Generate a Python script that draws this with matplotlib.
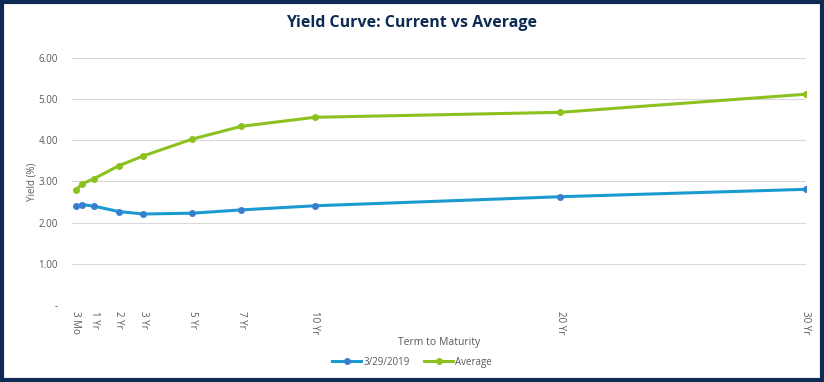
import matplotlib
matplotlib.use('Agg')
import matplotlib.pyplot as plt
from matplotlib.patches import Rectangle

terms = [0.25, 0.5, 1, 2, 3, 5, 7, 10, 20, 30]
current = [2.40, 2.44, 2.40, 2.27, 2.21, 2.23, 2.31, 2.41, 2.63, 2.81]
average = [2.79, 2.94, 3.07, 3.38, 3.62, 4.03, 4.34, 4.56, 4.68, 5.12]

tick_pos = [0.25, 1, 2, 3, 5, 7, 10, 20, 30]
tick_lab = ['3 Mo', '1 Yr', '2 Yr', '3 Yr', '5 Yr', '7 Yr', '10 Yr', '20 Yr', '30 Yr']
y_ticks = [0, 1, 2, 3, 4, 5, 6]
y_labs = ['-', '1.00', '2.00', '3.00', '4.00', '5.00', '6.00']

plt.rcParams['font.family'] = ['Open Sans', 'DejaVu Sans']
gray = '#595959'
navy = '#0d2b55'

fig = plt.figure(figsize=(8.24, 3.82), dpi=100)
ax = fig.add_axes([0.0874, 0.2016, 0.8906, 0.6466])

ax.plot(terms, current, color='#1b9ad2', lw=2.2, marker='o', ms=4,
        mfc='#3a7fcf', mec='#3a7fcf', label='3/29/2019', zorder=3)
ax.plot(terms, average, color='#8cc11f', lw=2.2, marker='o', ms=4,
        mfc='#8cc11f', mec='#8cc11f', label='Average', zorder=3)

ax.set_xlim(0.1, 30)
ax.set_ylim(0, 6)
ax.set_yticks(y_ticks)
ax.set_yticklabels(y_labs)
ax.set_xticks(tick_pos)
ax.set_xticklabels(tick_lab, rotation=270)
ax.tick_params(axis='both', length=0, labelsize=7, labelcolor=gray)
ax.tick_params(axis='y', pad=10)
ax.tick_params(axis='x', pad=4)
ax.grid(axis='y', color='#d9d9d9', lw=0.8)
ax.set_axisbelow(True)
for s in ax.spines.values():
    s.set_visible(False)

ax.set_ylabel('Yield (%)', fontsize=7, color=gray, labelpad=1)
ax.set_xlabel('Term to Maturity', fontsize=7.5, color=gray, labelpad=2)

fig.text(0.5, 0.94, 'Yield Curve: Current vs Average', ha='center', va='center',
         fontsize=11.5, fontweight='bold', color=navy)

leg = fig.legend(loc='center', bbox_to_anchor=(0.5, 0.052), ncol=2, frameon=False,
                 fontsize=7, handlelength=3, columnspacing=1.5, handletextpad=0.2)
for t in leg.get_texts():
    t.set_color(gray)

fig.patches.append(Rectangle((0.002, 0.004), 0.996, 0.992, transform=fig.transFigure,
                             fill=False, edgecolor=navy, lw=3))

fig.savefig('out.png', dpi=100)
